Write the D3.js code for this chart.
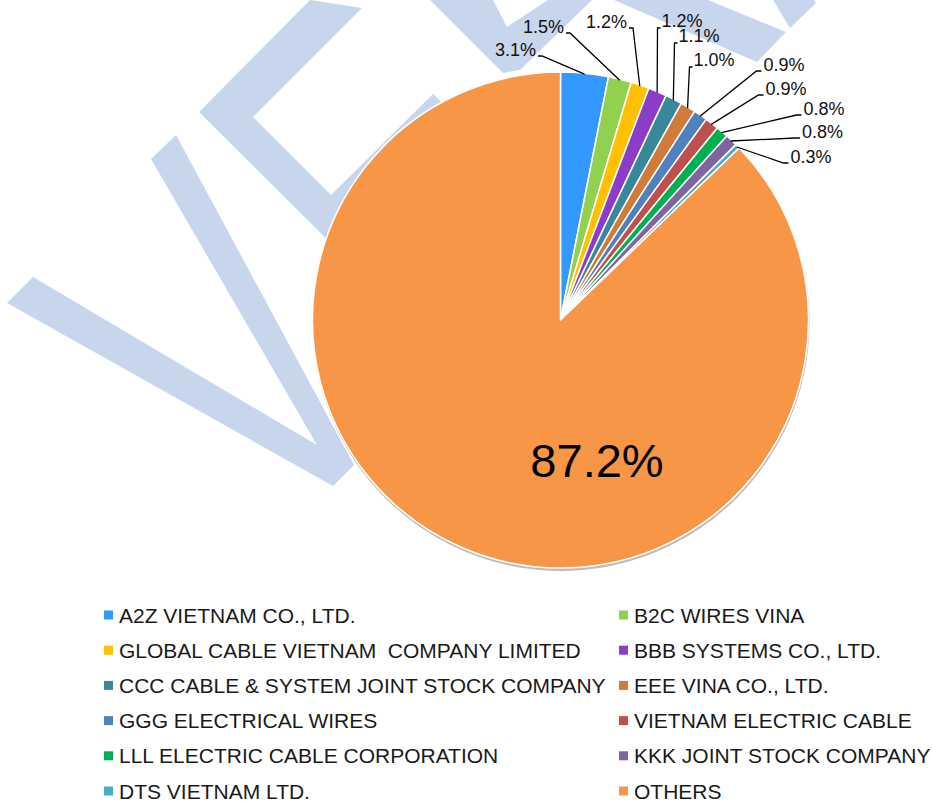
<!DOCTYPE html>
<html>
<head>
<meta charset="utf-8">
<script src="https://cdn.jsdelivr.net/npm/d3@7"></script>
<style>
  body { margin: 0; background: #fff; }
  svg { display: block; }
  text { font-family: "Liberation Sans", Arial, sans-serif; }
</style>
</head>
<body>
<div id="chart"></div>
<script>
// chart data
var companies = [
  'A2Z VIETNAM CO., LTD.',
  'B2C WIRES VINA',
  'GLOBAL CABLE VIETNAM  COMPANY LIMITED',
  'BBB SYSTEMS CO., LTD.',
  'CCC CABLE & SYSTEM JOINT STOCK COMPANY',
  'EEE VINA CO., LTD.',
  'GGG ELECTRICAL WIRES',
  'VIETNAM ELECTRIC CABLE',
  'LLL ELECTRIC CABLE CORPORATION',
  'KKK JOINT STOCK COMPANY',
  'DTS VIETNAM LTD.',
  'OTHERS'
];
var shares = [3.1, 1.5, 1.2, 1.2, 1.1, 1.0, 0.9, 0.9, 0.8, 0.8, 0.3, 87.2];
var colors = ['#3399ff', '#92d050', '#ffc000', '#8b3dc8', '#38889c', '#d07c38',
              '#4f81bd', '#c0504d', '#00b050', '#8064a2', '#4bacc6', '#f79646'];

// where each outside label sits, relative to the pie centre (dx, dy, side)
var labelSpots = [
  [-18.5, -264, 'L'], [9.5, -287, 'L'], [72.5, -292, 'L'],
  [97, -292, 'V'], [114, -277, 'V'], [129, -253, 'V'],
  [196, -249, 'R'], [198, -225, 'R'], [236, -205, 'R'],
  [234.5, -182, 'R'], [223, -157, 'R']
];
var bigLabelSpot = [36.5, 157];

// light blue watermark in the background
var watermark = [
  [[7,303],[33,277],[317,445],[151,159],[176,135],[354,465],[333,486]],
  [[310,0],[362,8],[253,117],[331,195],[433,94],[470,130],[380,292],[199,112]],
  [[430,0],[503,73],[520,70],[592,0],[548,0],[507,27],[493,0]],
  [[614,0],[757,62],[786,32],[708,0]],
  [[773,0],[790,28],[816,3],[814,0]]
];

var width = 932, height = 803;
var cx = 560.5, cy = 320, radius = 248;

var svg = d3.select('#chart')
  .append('svg')
  .attr('width', width)
  .attr('height', height);

svg.append('g')
  .selectAll('path')
  .data(watermark)
  .enter()
  .append('path')
  .attr('d', function (d) { return d3.line()(d) + 'Z'; })
  .attr('fill', '#c7d5ed');

var pie = d3.pie().sort(null).value(function (d) { return d; });
var arcs = pie(shares);
var arc = d3.arc().innerRadius(0).outerRadius(radius);

var g = svg.append('g')
  .attr('transform', 'translate(' + cx + ',' + cy + ')');

// soft shadow under the pie
g.append('circle')
  .attr('cx', 0.5)
  .attr('cy', 2.5)
  .attr('r', radius + 0.5)
  .attr('fill', '#bdbdbd');

g.selectAll('path.slice')
  .data(arcs)
  .enter()
  .append('path')
  .attr('class', 'slice')
  .attr('d', arc)
  .attr('fill', function (d, i) { return colors[i]; })
  .attr('stroke', '#fff')
  .attr('stroke-width', 1.5)
  .attr('stroke-linejoin', 'round');

// leader lines + small labels
arcs.slice(0, labelSpots.length).forEach(function (d, i) {
  var spot = labelSpots[i];
  var a = (d.startAngle + d.endAngle) / 2;
  var sx = Math.sin(a) * (radius - 1), sy = -Math.cos(a) * (radius - 1);
  var ex = spot[0], ey = spot[1];
  var pts;
  var tx, anchor;
  if (spot[2] === 'L') {
    pts = [[sx, sy], [ex, ey], [ex - 4, ey]];
    tx = ex - 6; anchor = 'end';
  } else if (spot[2] === 'R') {
    pts = [[sx, sy], [ex, ey], [ex + 5, ey]];
    tx = ex + 7; anchor = 'start';
  } else {
    pts = [[sx, sy], [ex, ey], [ex + 3, ey]];
    tx = ex + 4; anchor = 'start';
  }
  g.append('path')
    .attr('d', d3.line()(pts))
    .attr('fill', 'none')
    .attr('stroke', '#000')
    .attr('stroke-width', 1.3);
  g.append('text')
    .attr('x', tx)
    .attr('y', ey + (spot[2] === 'V' ? -1 : 0))
    .attr('text-anchor', anchor)
    .attr('font-size', 18)
    .attr('fill', '#111')
    .text(d3.format('.1f')(shares[i]) + '%');
});

// big label for OTHERS
g.append('text')
  .attr('x', bigLabelSpot[0])
  .attr('y', bigLabelSpot[1])
  .attr('text-anchor', 'middle')
  .attr('font-size', 47)
  .attr('fill', '#000')
  .text(d3.format('.1f')(shares[shares.length - 1]) + '%');

// legend, two columns
var colX = d3.scaleOrdinal().domain([0, 1]).range([104, 619]);
var rowY = d3.scaleLinear().domain([0, 5]).range([615, 791]);

var legend = svg.append('g')
  .selectAll('g')
  .data(companies)
  .enter()
  .append('g')
  .attr('transform', function (d, i) {
    return 'translate(' + colX(i % 2) + ',' + rowY(Math.floor(i / 2)) + ')';
  });

legend.append('rect')
  .attr('x', 0)
  .attr('y', -4.5)
  .attr('width', 9)
  .attr('height', 9)
  .attr('fill', function (d, i) { return colors[i]; });

legend.append('text')
  .attr('x', 15)
  .attr('y', 7.5)
  .attr('font-size', 21)
  .attr('fill', '#1a1a1a')
  .style('white-space', 'pre')
  .text(function (d) { return d; });
</script>
</body>
</html>
